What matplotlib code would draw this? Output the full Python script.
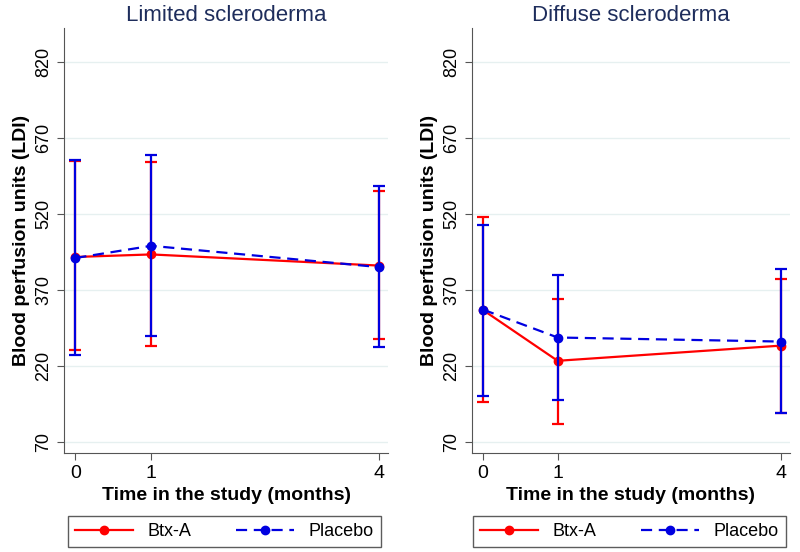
import matplotlib
matplotlib.use("Agg")
import matplotlib.pyplot as plt
from matplotlib.lines import Line2D
import numpy as np

months = [0, 1, 4]
panels = ["Limited scleroderma", "Diffuse scleroderma"]
yticks = [70, 220, 370, 520, 670, 820]

# Limited
lim_btx_mean = [435, 440, 418]
lim_btx_lo = [251, 260, 273]
lim_btx_hi = [625, 622, 566]
lim_pla_mean = [433, 457, 415]
lim_pla_lo = [241, 278, 258]
lim_pla_hi = [626, 636, 575]
# Diffuse
dif_btx_mean = [330, 230, 260]
dif_btx_lo = [148, 106, 127]
dif_btx_hi = [514, 352, 392]
dif_pla_mean = [331, 276, 268]
dif_pla_lo = [161, 152, 127]
dif_pla_hi = [498, 399, 411]

data = [
    (lim_btx_mean, lim_btx_lo, lim_btx_hi, lim_pla_mean, lim_pla_lo, lim_pla_hi),
    (dif_btx_mean, dif_btx_lo, dif_btx_hi, dif_pla_mean, dif_pla_lo, dif_pla_hi),
]

plt.rcParams['font.family'] = ['Liberation Sans Narrow', 'Liberation Sans', 'DejaVu Sans']

fig = plt.figure(figsize=(8, 5.52), dpi=100)
W, H = 800, 552
axes_px = [(64, 28, 388, 453), (472, 28, 790, 453)]
legend_px = [(71, 515, 378, 548), (477, 515, 782, 548)]

RED = "#ff0000"
BLUE = "#0000e0"

for i, (title, d) in enumerate(zip(panels, data)):
    x0, y0, x1, y1 = axes_px[i]
    ax = fig.add_axes([x0 / W, 1 - y1 / H, (x1 - x0) / W, (y1 - y0) / H])
    bm, bl, bh, pm, pl, ph = d
    bm, bl, bh, pm, pl, ph = map(np.array, (bm, bl, bh, pm, pl, ph))
    ax.errorbar(months, bm, yerr=[bm - bl, bh - bm], color=RED, lw=1.6,
                marker='o', ms=6, capsize=4, capthick=1.6, elinewidth=1.6, zorder=3)
    ax.errorbar(months, pm, yerr=[pm - pl, ph - pm], color=BLUE, lw=1.6, ls=(0, (5, 3)),
                marker='o', ms=6, capsize=4, capthick=1.6, elinewidth=1.6, zorder=4)
    ax.set_xlim(-0.15, 4.12)
    ax.set_ylim(48, 887)
    ax.set_yticks(yticks)
    ax.set_yticklabels([str(t) for t in yticks], rotation=90, va='center', fontsize=13)
    ax.set_xticks(months)
    ax.set_xticklabels([str(m) for m in months], fontsize=14)
    ax.grid(axis='y', color='#e6f0f0', lw=1)
    ax.set_axisbelow(True)
    for s in ['top', 'right']:
        ax.spines[s].set_visible(False)
    for s in ['left', 'bottom']:
        ax.spines[s].set_color('#555555')
    ax.tick_params(colors='#555555', labelcolor='black', length=5)
    ax.set_title(title, fontsize=16, color='#1e2d5c', pad=5,
                 family=['Liberation Sans', 'DejaVu Sans'])
    ax.set_xlabel("Time in the study (months)", fontsize=14, fontweight='bold')
    ax.set_ylabel("Blood perfusion units (LDI)", fontsize=14, fontweight='bold')

    lx0, ly0, lx1, ly1 = legend_px[i]
    handles = [Line2D([], [], color=RED, lw=1.6, marker='o', ms=6),
               Line2D([], [], color=BLUE, lw=1.6, ls=(0, (5, 3)), marker='o', ms=6)]
    leg = fig.legend(handles, ["Btx-A", "Placebo"], ncol=2, fontsize=13,
                     loc='center', bbox_to_anchor=((lx0 + lx1) / 2 / W, 1 - (ly0 + ly1) / 2 / H),
                     frameon=True, fancybox=False, edgecolor='#333333',
                     handlelength=3.2, columnspacing=2.5, borderpad=0.4,
                     prop={'family': ['Liberation Sans', 'DejaVu Sans'], 'size': 13})
    leg.get_frame().set_linewidth(1.0)

fig.savefig("out.png", dpi=100)
